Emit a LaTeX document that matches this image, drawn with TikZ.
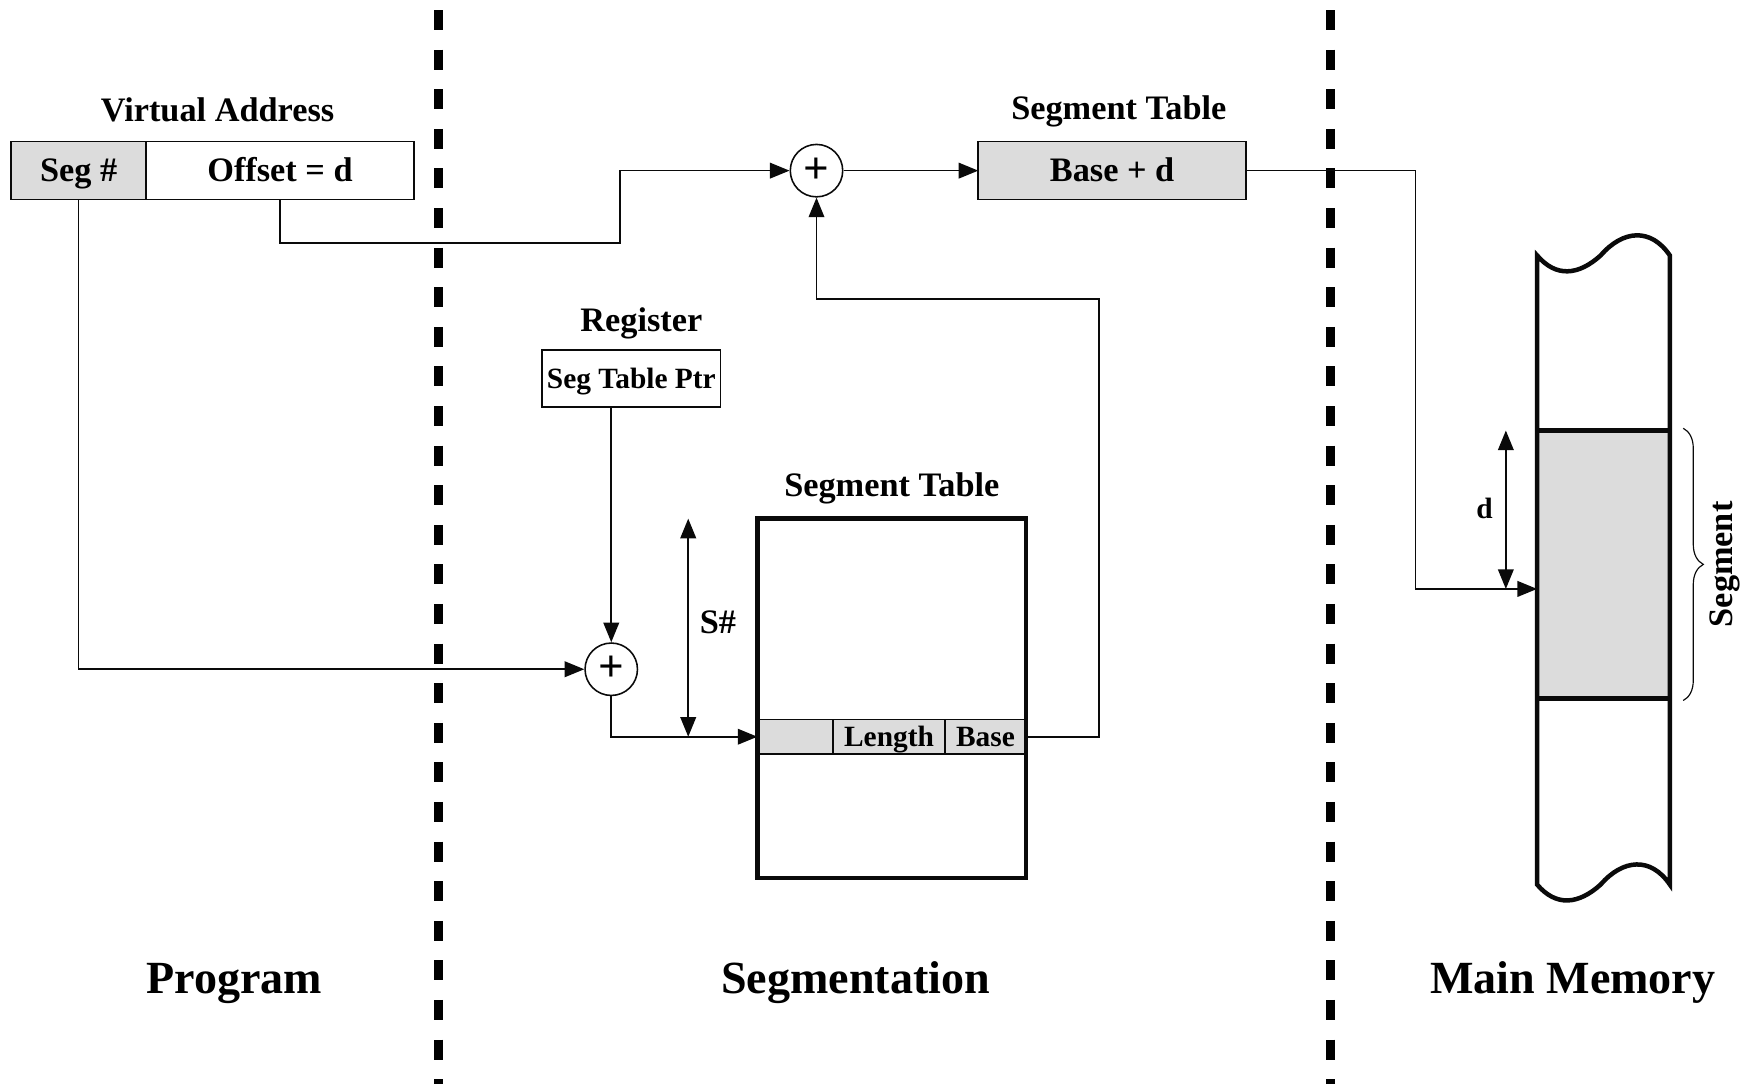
\documentclass[tikz,border=0pt]{standalone}
\usepackage{fontspec}
\setmainfont{Liberation Serif}
\usetikzlibrary{arrows.meta, positioning, calc, decorations.pathreplacing}
\definecolor{cellfill}{HTML}{DCDCDC}
\definecolor{darkline}{HTML}{0A0A0A}
\tikzset{
  lbl/.style={font=\fontsize{17.5}{21}\selectfont\bfseries, inner sep=0pt},
  smalllbl/.style={font=\fontsize{15}{18}\selectfont\bfseries, inner sep=0pt},
  biglbl/.style={font=\fontsize{23.5}{28}\selectfont\bfseries, inner sep=0pt},
  cell/.style={rectangle, draw=darkline, line width=0.8pt, minimum height=1.04cm,
               inner sep=0pt, outer sep=0pt, lbl, text height=11.5pt, text depth=0pt},
  shaded/.style={fill=cellfill},
  rowcell/.style={cell, smalllbl, fill=cellfill, minimum height=0.62cm,
                  text height=10pt, text depth=0pt},
  adder/.style={circle, draw=darkline, line width=0.8pt, minimum size=0.94cm,
                inner sep=0pt, font=\fontsize{23}{23}\selectfont\bfseries},
  tablebox/.style={rectangle, draw=darkline, line width=2.3pt, minimum width=4.82cm,
                   minimum height=6.44cm},
  membox/.style={draw=darkline, line width=2.3pt},
  flow/.style={-{Triangle[length=10pt, width=8pt]}, line width=0.8pt, draw=darkline},
  twoway/.style={{Triangle[length=10pt, width=8pt]}-{Triangle[length=10pt, width=8pt]},
                 line width=0.8pt, draw=darkline},
  divider/.style={line width=4.5pt, draw=black, dash pattern=on 0.36cm off 0.35cm},
  bracket/.style={decorate, decoration={brace, amplitude=0.36cm}, line width=0.6pt,
                  draw=darkline},
}
\def\memL{27.56}
\def\memR{29.94}
\def\memtop{14.86}
\def\membot{3.58}

\begin{document}
\begin{tikzpicture}
\useasboundingbox (0,0) rectangle (31.36,19.44);

% Region dividers
\draw[divider] (7.86,19.26) -- (7.86,0);
\draw[divider] (23.86,19.26) -- (23.86,0);

% Program: virtual address
\node[cell, shaded, minimum width=2.42cm] (segno) at (1.41,16.38) {Seg \#};
\node[cell, minimum width=4.8cm, right=0pt of segno] (offset) {Offset = d};
\node[lbl, anchor=base] (vatitle) at (3.9,17.26) {Virtual Address};

% Segmentation: adders, register, result
\node[adder] (plusA) at (14.64,16.38) {+};
\node[cell, shaded, minimum width=4.8cm] (basebox) at (19.94,16.38) {Base + d};
\node[lbl, anchor=base] (basetitle) at ($(basebox.north)+(0.12,0.4)$) {Segment Table};
\node[cell, smalllbl, minimum width=3.2cm, minimum height=1.02cm,
      text height=10pt, text depth=0pt] (reg) at (11.32,12.65) {Seg Table Ptr};
\node[lbl, anchor=base] (regtitle) at ($(reg.north)+(0.18,0.34)$) {Register};
\node[adder] (plusB) at (10.96,7.44) {+};

% Segment table with the selected row
\coordinate (rowwest) at (13.58,6.23);
\node[rowcell, minimum width=1.36cm, anchor=west] (c1) at (rowwest) {};
\node[rowcell, minimum width=2.0cm, right=0pt of c1] (c2) {Length};
\node[rowcell, minimum width=1.46cm, right=0pt of c2] (c3) {Base};
\node[tablebox] (segtab) at (15.99,6.92) {};
\node[lbl, anchor=base] (tabtitle) at ($(segtab.north)+(0,0.36)$) {Segment Table};
\coordinate (stop) at (12.34,10.14);
\node[lbl, anchor=base west] (snum) at (12.54,8.08) {S\#};

% Main memory strip
\node[membox, fill=cellfill, minimum width=2.38cm, minimum height=4.8cm, inner sep=0pt] (seg) at (28.75,9.32) {};
\draw[membox]
  (\memL,\memtop) .. controls (27.9,\memtop-0.4) and (28.3,\memtop-0.36) .. (28.7,\memtop)
  .. controls (29.1,\memtop+0.46) and (29.6,\memtop+0.5) .. (\memR,\memtop)
  -- (\memR,\membot)
  .. controls (29.6,\membot+0.5) and (29.1,\membot+0.46) .. (28.7,\membot)
  .. controls (28.3,\membot-0.36) and (27.9,\membot-0.4) .. (\memL,\membot) -- cycle;
\coordinate (memin) at (\memL,8.88);
\coordinate (dtop) at (27.0,11.72);
\node[smalllbl, anchor=base] (dlbl) at (26.62,10.14) {d};
\draw[bracket] ($(seg.north east)+(0.2,0)$) -- ($(seg.south east)+(0.2,0)$);
\node[lbl, rotate=90] (seglbl) at (30.92,9.32) {Segment};

% Region names
\node[biglbl, anchor=base] (prog) at (4.2,1.62) {Program};
\node[biglbl, anchor=base] (segm) at (15.34,1.62) {Segmentation};
\node[biglbl, anchor=base] (mainmem) at (28.2,1.62) {Main Memory};

% Flow
\coordinate (jog) at (11.12,15.08);
\coordinate (memjog) at (25.38,8.88);
\coordinate (retjog) at (19.7,14.08);
\draw[flow] (offset.south) |- (jog) |- (plusA.west);
\draw[flow] (plusA) -- (basebox);
\draw[flow] (basebox.east) -| (memjog) -- (memin);
\draw[flow] (reg.south -| plusB) -- (plusB.north);
\draw[flow] (segno.south) |- (plusB.west);
\draw[flow] (plusB.south) |- (c1.west);
\draw[twoway] (stop) -- (stop |- c1.west);
\draw[flow] (c3.east) -| (retjog) -| (plusA.south);
\draw[twoway] (dtop) -- (dtop |- memin);

\end{tikzpicture}
\end{document}
